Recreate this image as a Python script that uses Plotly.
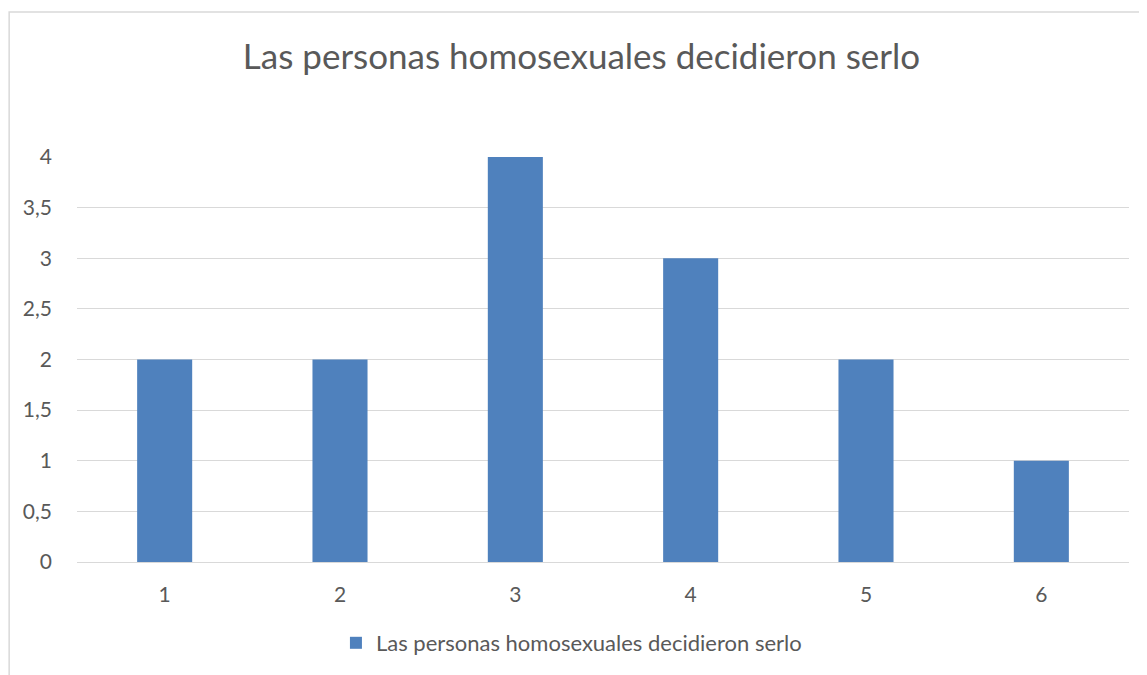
import plotly.graph_objects as go

# datos
categorias = ["1", "2", "3", "4", "5", "6"]
valores = [2, 2, 4, 3, 2, 1]
serie = "Las personas homosexuales decidieron serlo"
titulo = "Las personas homosexuales decidieron serlo"
y_ticks = [0, 0.5, 1, 1.5, 2, 2.5, 3, 3.5, 4]

TXT = "#595959"
GRID = "#D9D9D9"
FONT = "Lato, Open Sans, sans-serif"

fig = go.Figure()
fig.add_trace(go.Bar(
    x=categorias,
    y=valores,
    name=serie,
    marker=dict(color="#4F81BD", line=dict(width=0)),
    showlegend=True,
))

# la pagina tiene 8px de margen, se compensa aqui
fig.update_layout(
    width=1147, height=675,
    paper_bgcolor="white", plot_bgcolor="white",
    separators=",.",
    bargap=0.686,
    margin=dict(l=69, r=26, t=149, b=121),
    font=dict(family=FONT, color=TXT, size=21),
    title=dict(text=titulo, x=0.5, xanchor="center", y=0.928, yanchor="middle",
               font=dict(size=35, color=TXT, family=FONT)),
    legend=dict(orientation="h", x=0.47, xanchor="center", y=-0.2, yanchor="middle",
                font=dict(size=22, color=TXT), itemwidth=30),
    showlegend=True,
)
fig.update_xaxes(showgrid=False, showline=False, ticks="", ticklabelstandoff=18,
                 tickfont=dict(size=21, color=TXT))
fig.update_yaxes(range=[0, 4], tickvals=y_ticks, showgrid=True, gridcolor=GRID,
                 gridwidth=1.3, zeroline=True, zerolinecolor=GRID, zerolinewidth=1.3,
                 showline=False, ticks="", ticklabelstandoff=24,
                 tickfont=dict(size=21, color=TXT))

# marco del grafico
fig.add_shape(type="rect", xref="paper", yref="paper",
              x0=-0.0645, x1=1.2, y0=-0.5, y1=1.358,
              line=dict(color="#D9D9D9", width=1.5), fillcolor="rgba(0,0,0,0)",
              layer="below")

fig.write_html("out.html")
